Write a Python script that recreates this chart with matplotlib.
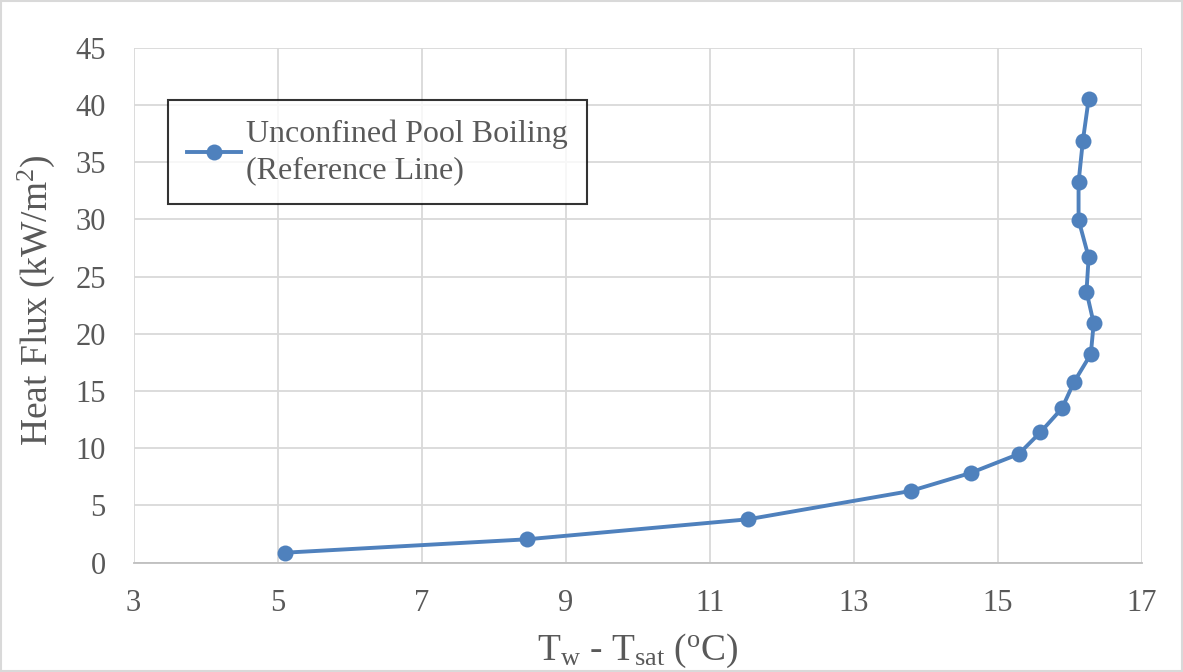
import matplotlib
matplotlib.use("Agg")
import matplotlib.pyplot as plt
from matplotlib.patches import Rectangle

# Superheat (Tw - Tsat, degC) and heat flux (kW/m^2)
superheat = [5.10, 8.46, 11.53, 13.79, 14.62, 15.29, 15.59, 15.89, 16.06,
             16.29, 16.33, 16.23, 16.26, 16.12, 16.12, 16.18, 16.26]
heat_flux = [0.86, 2.03, 3.78, 6.26, 7.83, 9.49, 11.39, 13.49, 15.82,
             18.22, 20.93, 23.69, 26.70, 29.97, 33.26, 36.90, 40.52]
series_label = "Unconfined Pool Boiling\n(Reference Line)"

x_ticks = [3, 5, 7, 9, 11, 13, 15, 17]
y_ticks = [0, 5, 10, 15, 20, 25, 30, 35, 40, 45]

plt.rcParams["font.family"] = ["Liberation Serif", "DejaVu Serif"]
plt.rcParams["mathtext.fontset"] = "custom"
plt.rcParams["mathtext.rm"] = "Liberation Serif"
plt.rcParams["mathtext.it"] = "Liberation Serif:italic"

text_color = "#595959"
grid_color = "#D9D9D9"
line_color = "#4F81BD"

fig = plt.figure(figsize=(11.83, 6.72), dpi=100)
ax = fig.add_axes([0.1129, 0.1629, 0.8524, 0.7657])

ax.plot(superheat, heat_flux, color=line_color, lw=2.8, marker="o",
        markersize=11.5, markeredgewidth=0, label=series_label, zorder=3)

ax.set_xlim(3, 17)
ax.set_ylim(0, 45)
ax.set_xticks(x_ticks)
ax.set_yticks(y_ticks)
ax.grid(True, color=grid_color, lw=1.3)
ax.set_axisbelow(True)

for side in ("top", "right", "left"):
    ax.spines[side].set_visible(False)
ax.spines["bottom"].set_color("#BFBFBF")
ax.spines["bottom"].set_linewidth(1.3)

ax.tick_params(axis="both", length=0, labelsize=22, labelcolor=text_color)
ax.tick_params(axis="y", pad=20)
ax.tick_params(axis="x", pad=19)

ax.set_xlabel(r"$\mathrm{T_w}$ - $\mathrm{T_{sat}}$ ($^{\mathrm{o}}$C)",
              fontsize=27, color=text_color)
ax.xaxis.set_label_coords(0.5, -0.135)
ax.set_ylabel(r"Heat Flux (kW/m$^2$)", fontsize=27, color=text_color)
ax.yaxis.set_label_coords(-0.076, 0.51)

leg = ax.legend(loc="upper left", bbox_to_anchor=(0.034, 0.899),
                fontsize=23, frameon=True, fancybox=False,
                handlelength=1.7, handletextpad=0.15, borderpad=0.6,
                borderaxespad=0)
leg.get_frame().set_edgecolor("black")
leg.get_frame().set_linewidth(1.5)
for t in leg.get_texts():
    t.set_color(text_color)
    t.set_linespacing(1.35)

fig.patches.append(Rectangle((0.001, 0.001), 0.998, 0.997,
                             transform=fig.transFigure, fill=False,
                             edgecolor=grid_color, lw=1.5))

fig.savefig("out.png", dpi=100)
